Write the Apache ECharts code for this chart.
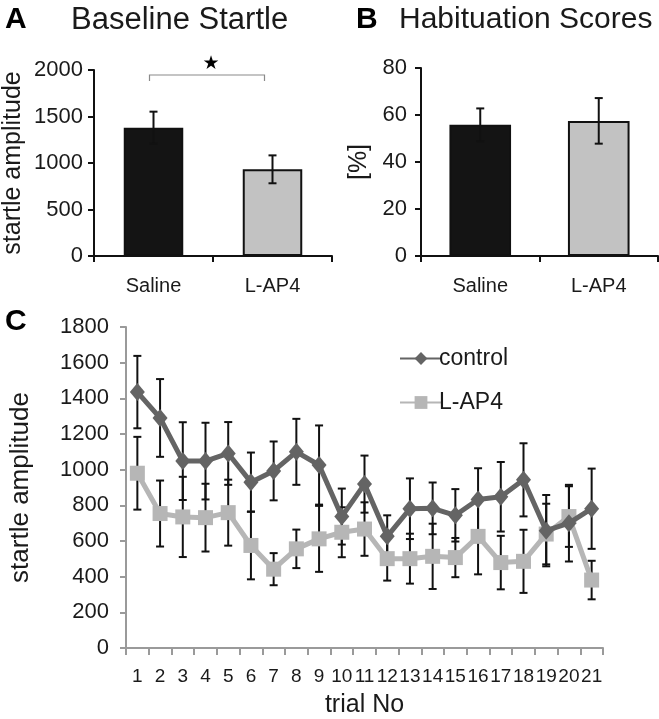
<!DOCTYPE html>
<html>
<head>
<meta charset="utf-8">
<script src="https://cdn.jsdelivr.net/npm/echarts@6/dist/echarts.min.js"></script>
<style>
html,body{margin:0;padding:0;background:#fff;}
#chart{width:659px;height:719px;}
</style>
</head>
<body>
<div id="chart"></div>
<script>
// ---- Panel A: Baseline Startle ----
const groups = ['Saline', 'L-AP4'];
const baseline = [1380, 932];
const baselineErr = [172, 150];
const sigLevel = 1946;
// ---- Panel B: Habituation Scores ----
const habituation = [55.8, 57.5];
const habituationErr = [7, 9.7];
// ---- Panel C: startle by trial ----
const trials = ['1','2','3','4','5','6','7','8','9','10','11','12','13','14','15','16','17','18','19','20','21'];
const control = [1435, 1290, 1048, 1048, 1091, 930, 993, 1100, 1026, 737, 919, 626, 781, 783, 744, 833, 848, 943, 658, 700, 781];
const controlErr = [203, 218, 218, 215, 176, 166, 165, 185, 222, 157, 160, 118, 170, 145, 147, 175, 195, 205, 200, 215, 225];
const lap4 = [980, 754, 735, 731, 759, 575, 442, 556, 612, 649, 667, 501, 501, 514, 507, 626, 479, 486, 639, 737, 381];
const lap4Err = [204, 185, 225, 190, 185, 190, 90, 108, 185, 140, 150, 123, 140, 183, 110, 213, 150, 177, 170, 170, 108];

const FONT = 'Liberation Sans, Arial, sans-serif';
const TXT = '#1a1a1a';
const barColors = ['#141414', '#c2c2c2'];
const plain = (v) => String(v);

function errData(vals, errs) {
  return vals.map((v, i) => [i, v - errs[i], v + errs[i]]);
}
function errRender(capHalf) {
  return function (params, api) {
    const x = api.value(0);
    const lo = api.coord([x, api.value(1)]);
    const hi = api.coord([x, api.value(2)]);
    const st = { stroke: '#111', lineWidth: 2 };
    return {
      type: 'group',
      children: [
        { type: 'line', shape: { x1: lo[0], y1: lo[1], x2: hi[0], y2: hi[1] }, style: st },
        { type: 'line', shape: { x1: hi[0] - capHalf, y1: hi[1], x2: hi[0] + capHalf, y2: hi[1] }, style: st },
        { type: 'line', shape: { x1: lo[0] - capHalf, y1: lo[1], x2: lo[0] + capHalf, y2: lo[1] }, style: st }
      ]
    };
  };
}

const chart = echarts.init(document.getElementById('chart'), null, { renderer: 'canvas' });

const catAxisAB = (gi) => ({
  type: 'category', gridIndex: gi, data: groups,
  axisLine: { lineStyle: { color: '#111', width: 2 } },
  axisTick: { show: true, length: 6, lineStyle: { color: '#111', width: 2 } },
  axisLabel: { fontFamily: FONT, fontSize: 20, color: TXT, margin: 20 }
});

const option = {
  backgroundColor: '#fff',
  animation: false,
  title: [
    { text: 'A', left: 0, top: 0, textStyle: { fontFamily: FONT, fontSize: 30, fontWeight: 'bold', color: '#000' } },
    { text: 'Baseline Startle', left: 66, top: 0, textStyle: { fontFamily: FONT, fontSize: 31, fontWeight: 'normal', color: TXT } },
    { text: 'B', left: 351, top: 0, textStyle: { fontFamily: FONT, fontSize: 30, fontWeight: 'bold', color: '#000' } },
    { text: 'Habituation Scores', left: 394, top: 0, textStyle: { fontFamily: FONT, fontSize: 30, fontWeight: 'normal', color: TXT } },
    { text: 'C', left: 0, top: 302, textStyle: { fontFamily: FONT, fontSize: 30, fontWeight: 'bold', color: '#000' } }
  ],
  legend: {
    data: ['control', 'L-AP4'],
    orient: 'vertical', left: 394, top: 342,
    itemWidth: 42, itemHeight: 16, itemGap: 21,
    textStyle: { fontFamily: FONT, fontSize: 23, color: TXT, padding: [0, 0, 0, -8] }
  },
  grid: [
    { left: 92, top: 70, width: 240, height: 186 },
    { left: 421, top: 68, width: 237, height: 188 },
    { left: 120, top: 327, width: 483, height: 325 }
  ],
  xAxis: [
    catAxisAB(0),
    catAxisAB(1),
    {
      type: 'category', gridIndex: 2, data: trials,
      name: 'trial No', nameLocation: 'middle', nameGap: 45,
      nameTextStyle: { fontFamily: FONT, fontSize: 25, color: TXT },
      axisLine: { lineStyle: { color: '#9a9a9a', width: 2 } },
      axisTick: { show: true, length: 7, lineStyle: { color: '#9a9a9a', width: 2 } },
      axisLabel: { fontFamily: FONT, fontSize: 19, color: TXT, margin: 19, interval: 0 }
    }
  ],
  yAxis: [
    {
      type: 'value', gridIndex: 0, min: 0, max: 2000, interval: 500,
      name: 'startle amplitude', nameLocation: 'middle', nameGap: 68,
      nameTextStyle: { fontFamily: FONT, fontSize: 25, color: TXT },
      axisLine: { show: true, lineStyle: { color: '#111', width: 2 } },
      axisTick: { show: true, length: 6, lineStyle: { color: '#111', width: 2 } },
      axisLabel: { fontFamily: FONT, fontSize: 22, color: TXT, margin: 11, formatter: plain },
      splitLine: { show: false }
    },
    {
      type: 'value', gridIndex: 1, min: 0, max: 80, interval: 20,
      name: '[%]', nameLocation: 'middle', nameGap: 49,
      nameTextStyle: { fontFamily: FONT, fontSize: 25, color: TXT },
      axisLine: { show: true, lineStyle: { color: '#111', width: 2 } },
      axisTick: { show: true, length: 6, lineStyle: { color: '#111', width: 2 } },
      axisLabel: { fontFamily: FONT, fontSize: 22, color: TXT, margin: 14, formatter: plain },
      splitLine: { show: false }
    },
    {
      type: 'value', gridIndex: 2, min: 0, max: 1800, interval: 200,
      name: 'startle amplitude', nameLocation: 'middle', nameGap: 92,
      nameTextStyle: { fontFamily: FONT, fontSize: 26, color: TXT },
      axisLine: { show: true, lineStyle: { color: '#9a9a9a', width: 2 } },
      axisTick: { show: true, length: 6, lineStyle: { color: '#9a9a9a', width: 2 } },
      axisLabel: { fontFamily: FONT, fontSize: 22, color: TXT, margin: 17, formatter: plain },
      splitLine: { show: false }
    }
  ],
  series: [
    {
      type: 'bar', xAxisIndex: 0, yAxisIndex: 0, barWidth: '50%',
      data: baseline.map((v, i) => ({ value: v, itemStyle: { color: barColors[i] } })),
      itemStyle: { borderColor: '#111', borderWidth: 2 }, z: 2
    },
    {
      type: 'custom', xAxisIndex: 0, yAxisIndex: 0, z: 5,
      renderItem: errRender(4), data: errData(baseline, baselineErr)
    },
    {
      type: 'custom', xAxisIndex: 0, yAxisIndex: 0, z: 5,
      data: [[0, 1, sigLevel]],
      renderItem: function (params, api) {
        const a = api.coord([api.value(0), api.value(2)]);
        const b = api.coord([api.value(1), api.value(2)]);
        const x0 = a[0] - 4, x1 = b[0] - 8, y = a[1];
        return {
          type: 'group',
          children: [
            { type: 'polyline', shape: { points: [[x0, y + 6], [x0, y], [x1, y], [x1, y + 6]] },
              style: { stroke: '#8a8a8a', lineWidth: 1.2, fill: null } },
            { type: 'text', style: { text: '★', x: (x0 + x1) / 2 + 4, y: y - 11, fill: '#000',
              font: '19px DejaVu Sans', textAlign: 'center', textVerticalAlign: 'middle' } }
          ]
        };
      }
    },
    {
      type: 'bar', xAxisIndex: 1, yAxisIndex: 1, barWidth: '52%',
      data: habituation.map((v, i) => ({ value: v, itemStyle: { color: barColors[i] } })),
      itemStyle: { borderColor: '#111', borderWidth: 2 }, z: 2
    },
    {
      type: 'custom', xAxisIndex: 1, yAxisIndex: 1, z: 5,
      renderItem: errRender(4), data: errData(habituation, habituationErr)
    },
    {
      type: 'custom', xAxisIndex: 2, yAxisIndex: 2, z: 1,
      renderItem: errRender(4), data: errData(control, controlErr)
    },
    {
      type: 'custom', xAxisIndex: 2, yAxisIndex: 2, z: 1,
      renderItem: errRender(4), data: errData(lap4, lap4Err)
    },
    {
      name: 'control', type: 'line', xAxisIndex: 2, yAxisIndex: 2, data: control, z: 4,
      symbol: 'diamond', symbolSize: [15, 18],
      lineStyle: { color: '#646464', width: 5 },
      itemStyle: { color: '#646464' }
    },
    {
      name: 'L-AP4', type: 'line', xAxisIndex: 2, yAxisIndex: 2, data: lap4, z: 3,
      symbol: 'rect', symbolSize: 15,
      lineStyle: { color: '#b6b6b6', width: 5 },
      itemStyle: { color: '#b6b6b6' }
    }
  ]
};
chart.setOption(option);
</script>
</body>
</html>
